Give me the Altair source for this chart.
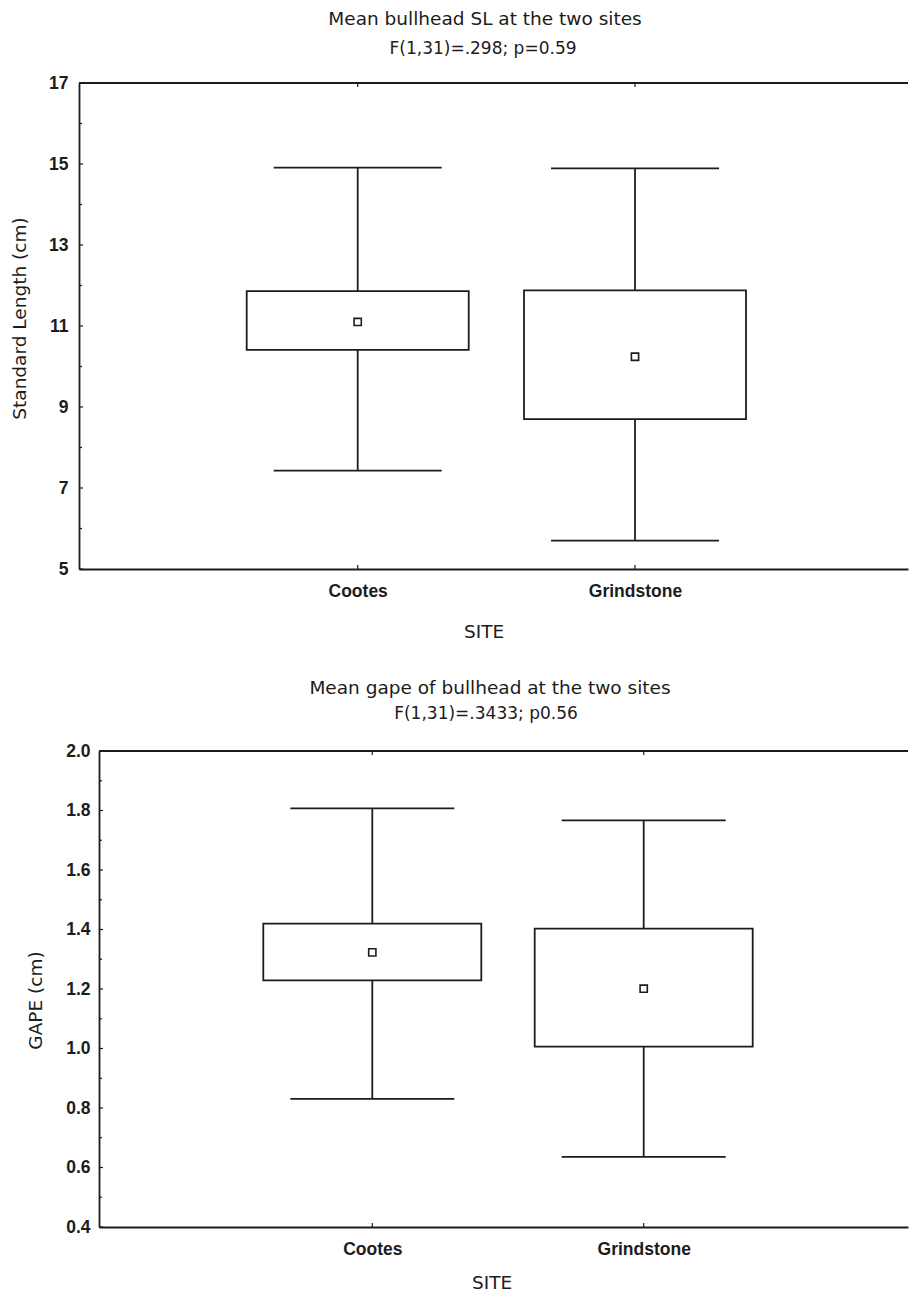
import altair as alt
import pandas as pd

# Sites compared
sites = ["Cootes", "Grindstone"]

# Standard length (cm): whisker ends, box edges and mean per site
sl_max = [14.91, 14.89]
sl_q3 = [11.86, 11.88]
sl_mean = [11.10, 10.24]
sl_q1 = [10.41, 8.70]
sl_min = [7.43, 5.70]
sl_major = [5, 7, 9, 11, 13, 15, 17]
sl_minor = [6, 8, 10, 12, 14, 16]

# Gape (cm)
gape_max = [1.807, 1.767]
gape_q3 = [1.420, 1.403]
gape_mean = [1.323, 1.201]
gape_q1 = [1.229, 1.006]
gape_min = [0.831, 0.636]
gape_major = [0.4, 0.6, 0.8, 1.0, 1.2, 1.4, 1.6, 1.8, 2.0]
gape_minor = [0.5, 0.7, 0.9, 1.1, 1.3, 1.5, 1.7, 1.9]

INK = "#1c1c1c"
LABEL_FONT = "Liberation Sans"
TEXT_FONT = "DejaVu Sans"
LW = 1.8
WIDTH = 829      # shared view width of both panels
LEFT = 79        # room left of the view for the value axis


def panel(p):
    df = pd.DataFrame({
        "site": sites, "max": p["max"], "q3": p["q3"], "mean": p["mean"],
        "q1": p["q1"], "min": p["min"],
    })
    W, H, x0 = WIDTH, p["height"], p["inset"]
    one = pd.DataFrame({"k": [0]})

    x_axis = alt.Axis(
        labelAngle=0, ticks=False, tickSize=0, labelPadding=13,
        labelFont=LABEL_FONT, labelFontSize=17.5, labelFontWeight="bold",
        labelColor=INK, domainColor=INK, domainWidth=LW, grid=False,
        titleFont=TEXT_FONT, titleFontSize=18.5, titleFontWeight="normal",
        titleColor=INK, titleBaseline="middle",
        titleX=p["xtitle_x"], titleY=p["xtitle_y"],
    )
    x = alt.X(
        "site:N", sort=sites, title="SITE", axis=x_axis,
        scale=alt.Scale(type="point", padding=p["pad"], align=p["align"],
                        range=[x0, W]),
    )

    y_axis = alt.Axis(
        values=p["major"], format=p["fmt"], ticks=False, tickSize=0,
        offset=-x0,
        labelPadding=p["lpad"], labelFont=LABEL_FONT, labelFontSize=17.5,
        labelFontWeight="bold", labelColor=INK, labelFlush=False,
        labelOverlap=False, grid=False, domainColor=INK, domainWidth=LW,
        titleFont=TEXT_FONT, titleFontSize=18.5, titleFontWeight="normal",
        titleColor=INK, titleAngle=270, titleBaseline="middle",
        titleAlign="center", titleX=p["ytitle_x"], titleY=p["ytitle_y"],
    )
    y_scale = alt.Scale(domain=[p["major"][0], p["major"][-1]], nice=False, zero=False)

    def Y(field):
        return alt.Y(f"{field}:Q", scale=y_scale, axis=y_axis, title=p["ytitle"])

    base = alt.Chart(df)

    # invisible guide that fixes the panel's outer box
    spacer = alt.Chart(one).mark_rule(color="white", strokeWidth=1).encode(
        x=alt.value(-LEFT + 0.5), y=alt.value(-p["top"] + 0.5),
        y2=alt.value(p["bottom"] - 0.5)
    )

    whisker = base.mark_rule(color=INK, strokeWidth=LW).encode(
        x=x, y=Y("min"), y2=alt.Y2("max:Q")
    )
    cap_hi = base.mark_tick(color=INK, thickness=LW, size=p["cap"], opacity=1).encode(
        x=x, y=Y("max")
    )
    cap_lo = base.mark_tick(color=INK, thickness=LW, size=p["cap"], opacity=1).encode(
        x=x, y=Y("min")
    )
    box = base.mark_bar(size=p["box"], fill="white", stroke=INK, strokeWidth=LW).encode(
        x=x, y=Y("q1"), y2=alt.Y2("q3:Q")
    )
    mean = base.mark_point(
        shape="square", size=52, filled=False, color=INK, strokeWidth=1.6, opacity=1
    ).encode(x=x, y=Y("mean"))

    # inward ticks on the value axis
    major = alt.Chart(pd.DataFrame({"v": p["major"]})).mark_rule(
        color=INK, strokeWidth=1.2
    ).encode(y=Y("v"), x=alt.value(x0), x2=alt.value(x0 + 4))
    minor = alt.Chart(pd.DataFrame({"v": p["minor"]})).mark_rule(
        color=INK, strokeWidth=1.2
    ).encode(y=Y("v"), x=alt.value(x0), x2=alt.value(x0 + 3))

    # inward ticks at the site positions on top and bottom edges
    tick_top = base.mark_rule(color=INK, strokeWidth=1.2).encode(
        x=x, y=alt.value(0), y2=alt.value(4)
    )
    tick_bottom = base.mark_rule(color=INK, strokeWidth=1.2).encode(
        x=x, y=alt.value(H - 4), y2=alt.value(H)
    )
    frame_top = alt.Chart(one).mark_rule(color=INK, strokeWidth=LW).encode(
        x=alt.value(x0), x2=alt.value(W), y=alt.value(0)
    )

    title = alt.Chart(pd.DataFrame({"t": [p["title"]]})).mark_text(
        font=TEXT_FONT, fontSize=18.5, color=INK, baseline="middle", align="center"
    ).encode(text="t:N", x=alt.value(p["title_x"]), y=alt.value(p["title_y"]))
    stat = alt.Chart(pd.DataFrame({"t": [p["stat"]]})).mark_text(
        font=TEXT_FONT, fontSize=17, color=INK, baseline="middle", align="center"
    ).encode(text="t:N", x=alt.value(p["stat_x"]), y=alt.value(p["stat_y"]))

    return alt.layer(
        spacer, whisker, cap_hi, cap_lo, box, mean, major, minor,
        tick_top, tick_bottom, frame_top, title, stat,
    ).properties(width=W, height=H)


sl_panel = panel(dict(
    max=sl_max, q3=sl_q3, mean=sl_mean, q1=sl_q1, min=sl_min,
    major=sl_major, minor=sl_minor, fmt="d",
    ytitle="Standard Length (cm)",
    title="Mean bullhead SL at the two sites",
    stat="F(1,31)=.298; p=0.59",
    height=486, inset=0, top=83, bottom=577,
    pad=0.99477, align=0.50517, box=222, cap=168, lpad=11,
    title_x=406, title_y=-64, stat_x=404, stat_y=-34,
    ytitle_x=-59.5, ytitle_y=235, xtitle_x=404.7, xtitle_y=62,
))

gape_panel = panel(dict(
    max=gape_max, q3=gape_q3, mean=gape_mean, q1=gape_q1, min=gape_min,
    major=gape_major, minor=gape_minor, fmt=".1f",
    ytitle="GAPE (cm)",
    title="Mean gape of bullhead at the two sites",
    stat="F(1,31)=.3433; p0.56",
    height=476, inset=20, top=91, bottom=540,
    pad=0.99043, align=0.50837, box=218, cap=164, lpad=9,
    title_x=411, title_y=-63, stat_x=407, stat_y=-37,
    ytitle_x=-63.5, ytitle_y=249, xtitle_x=412.7, xtitle_y=55,
))

chart = alt.vconcat(sl_panel, gape_panel, spacing=0).properties(
    padding=0, background="white"
).configure_view(stroke=None)

chart.save("out.html", embed_options={"renderer": "svg", "actions": False})
